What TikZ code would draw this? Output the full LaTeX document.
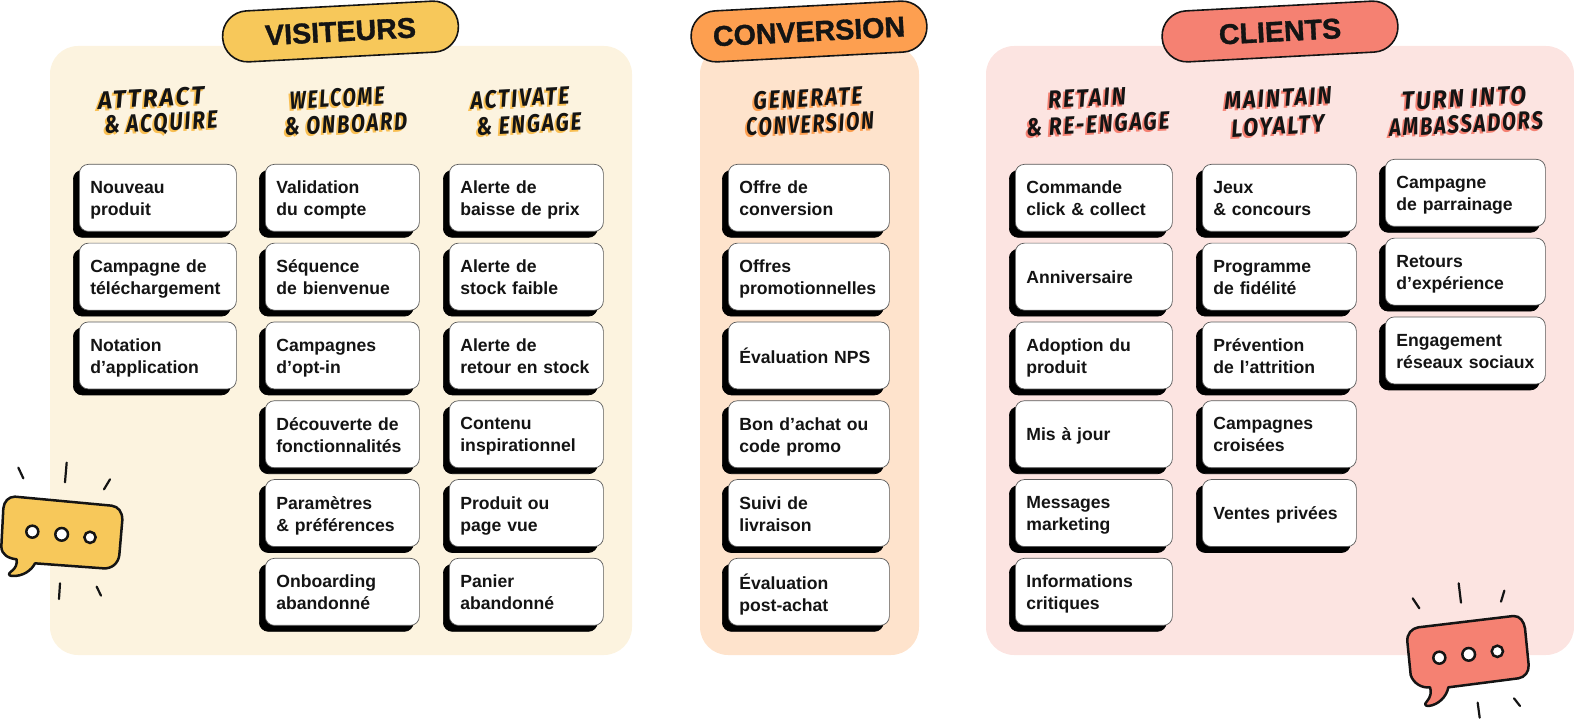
\documentclass[tikz,border=0pt]{standalone}
\usepackage{fontspec}
\setmainfont{Liberation Sans}
\newfontfamily\handfont[LetterSpace=9]{Fira Sans}
\newfontfamily\pillfont[BoldFeatures={FakeBold=1.2}]{Liberation Sans}
\usetikzlibrary{calc,shadows}
\definecolor{visPale}{HTML}{FCF3DF}
\definecolor{visMain}{HTML}{F7C85A}
\definecolor{visInk}{HTML}{F9BF52}
\definecolor{conPale}{HTML}{FEE3CC}
\definecolor{conMain}{HTML}{FD9F50}
\definecolor{cliPale}{HTML}{FCE4E1}
\definecolor{cliMain}{HTML}{F58172}
\definecolor{inkBlack}{HTML}{141414}
\tikzset{x=0.5pt,y=-0.5pt,
  panel/.style = {rounded corners=14pt},
  pill/.style = {draw=inkBlack,line width=0.8pt,rounded corners=12.5pt,rotate=3,
    minimum width=118pt,minimum height=25.5pt,inner sep=0pt,
    font=\fontsize{14.3}{14.3}\pillfont\bfseries,text=inkBlack},
  card/.style = {draw=black!65,line width=0.35pt,fill=white,rounded corners=4.5pt,
    anchor=north west,minimum height=33.5pt,inner xsep=5.5pt,inner ysep=0pt,
    text width=#1,text depth=10.4pt,align=left,text=inkBlack,
    font=\fontsize{8.8}{11}\selectfont\bfseries,
    copy shadow={shadow xshift=-3pt,shadow yshift=-3pt,fill=black,draw=black,opacity=1}},
  oneline/.style = {text depth=0pt},
  hand/.style = {rotate=3,inner sep=0pt,
    font=\fontsize{12.5}{12.5}\handfont\bfseries\itshape},
  bubble/.style = {draw=inkBlack,line width=1.25pt,line join=round},
  dot/.style = {draw=inkBlack,fill=white,line width=1.25pt},
  spark/.style = {draw=inkBlack,line width=1.1pt,line cap=round}
}
% one hand lettered line: offset colour copy under the black one
\newcommand{\handline}[5]{%
  \node[hand,text=#3] (#1-back) at ($(#2)+(-2,2)$) {\scalebox{#4}[1]{#5}};
  \node[hand,text=inkBlack] (#1) at (#2) {\scalebox{#4}[1]{#5}};
}
\begin{document}
\begin{tikzpicture}
  \useasboundingbox (0,0) rectangle (1574,726);

  \fill[panel,visPale] (50,46) rectangle (632,655);
  \fill[panel,conPale] (700,46) rectangle (919,655);
  \fill[panel,cliPale] (986,46) rectangle (1574,655);

  \node[pill,fill=visMain] (visiteurs) at (340.5,31.5) {VISITEURS};
  \node[pill,fill=conMain] (conversion) at (809,31.5) {CONVERSION};
  \node[pill,fill=cliMain] (clients) at (1280,31.5) {CLIENTS};

  \handline{attract}{151,98}{visInk}{0.97}{ATTRACT}
  \handline{acquire}{161,124}{visInk}{0.83}{\& ACQUIRE}
  \handline{welcome}{337,98}{visInk}{0.78}{WELCOME}
  \handline{onboard}{346,124}{visInk}{0.81}{\& ONBOARD}
  \handline{activate}{520,98}{visInk}{0.84}{ACTIVATE}
  \handline{engage}{529,124}{visInk}{0.83}{\& ENGAGE}
  \handline{generate}{808,98}{conMain}{0.85}{GENERATE}
  \handline{generconv}{810,124}{conMain}{0.78}{CONVERSION}
  \handline{retain}{1087,98}{cliMain}{0.87}{RETAIN}
  \handline{reengage}{1098,124}{cliMain}{0.84}{\& RE-ENGAGE}
  \handline{maintain}{1278,98}{cliMain}{0.87}{MAINTAIN}
  \handline{loyalty}{1278,126}{cliMain}{0.87}{LOYALTY}
  \handline{turninto}{1464,98}{cliMain}{0.92}{TURN INTO}
  \handline{ambass}{1466,124}{cliMain}{0.81}{AMBASSADORS}

  \foreach \n/\txt in {0/Nouveau\\produit,1/Campagne de\\téléchargement,2/Notation\\d’application}
    \node[card=67.5pt] (acquire-\n) at (79,164+78.8*\n) {\txt};
  \foreach \n/\txt in {0/Validation\\du compte,1/Séquence\\de bienvenue,2/Campagnes\\d’opt-in,
      3/Découverte de\\fonctionnalités,4/Paramètres\\\& préférences,5/Onboarding\\abandonné}
    \node[card=66pt] (onboard-\n) at (265,164+78.8*\n) {\txt};
  \foreach \n/\txt in {0/Alerte de\\baisse de prix,1/Alerte de\\stock faible,2/Alerte de\\retour en stock,
      3/Contenu\\inspirationnel,4/Produit ou\\page vue,5/Panier\\abandonné}
    \node[card=66pt] (engage-\n) at (449,164+78.8*\n) {\txt};
  \foreach \n/\txt in {0/Offre de\\conversion,1/Offres\\promotionnelles,
      3/Bon d’achat ou\\code promo,4/Suivi de\\livraison,5/Évaluation\\post-achat}
    \node[card=69.5pt] (convert-\n) at (728,164+78.8*\n) {\txt};
  \node[card=69.5pt,oneline] (convert-2) at (728,321.6) {Évaluation NPS};
  \foreach \n/\txt in {0/Commande\\click \& collect,2/Adoption du\\produit,
      4/Messages\\marketing,5/Informations\\critiques}
    \node[card=67.5pt] (retain-\n) at (1015,164+78.8*\n) {\txt};
  \node[card=67.5pt,oneline] (retain-1) at (1015,242.8) {Anniversaire};
  \node[card=67.5pt,oneline] (retain-3) at (1015,400.4) {Mis à jour};
  \foreach \n/\txt in {0/Jeux\\\& concours,1/Programme\\de fidélité,2/Prévention\\de l’attrition,
      3/Campagnes\\croisées}
    \node[card=66pt] (loyalty-\n) at (1202,164+78.8*\n) {\txt};
  \node[card=66pt,oneline] (loyalty-4) at (1202,479.2) {Ventes privées};
  \foreach \n/\txt in {0/Campagne\\de parrainage,1/Retours\\d’expérience,2/Engagement\\réseaux sociaux}
    \node[card=69pt] (ambass-\n) at (1385,159+78.8*\n) {\txt};

  % yellow bubble
  \begin{scope}[shift={(0,440)},scale=1/3]
    \draw[bubble,fill=visMain] (45,170) -- (335,197) .. controls (355,200) and (367,215) .. (367,240)
      -- (358,345) .. controls (355,370) and (335,387) .. (310,385) -- (105,370)
      .. controls (95,390) and (70,410) .. (35,408) .. controls (25,407) and (25,400) .. (33,395)
      .. controls (48,385) and (52,370) .. (50,358) .. controls (25,355) and (5,345) .. (4,320)
      -- (10,205) .. controls (12,185) and (25,170) .. (45,170) -- cycle;
    \draw[dot] (97,275) circle (18);
    \draw[dot] (185,283) circle (19);
    \draw[dot] (270,292) circle (17);
    \draw[spark] (55,83) -- (70,115);
    \draw[spark] (200,68) -- (195,127);
    \draw[spark] (330,118) -- (312,148);
    \draw[spark] (180,430) -- (177,477);
    \draw[spark] (290,440) -- (303,467);
  \end{scope}

  % red bubble
  \begin{scope}[shift={(1380,560)},scale=1/3]
    \draw[bubble,fill=cliMain] (400,168) .. controls (420,167) and (432,185) .. (435,205)
      -- (446,315) .. controls (447,335) and (435,352) .. (415,355) -- (205,382)
      .. controls (200,410) and (175,435) .. (145,438) .. controls (135,438) and (133,432) .. (140,425)
      .. controls (152,412) and (155,395) .. (150,382) .. controls (125,385) and (100,370) .. (92,345)
      -- (82,245) .. controls (80,222) and (95,205) .. (115,202) -- cycle;
    \draw[dot] (178,293) circle (18);
    \draw[dot] (266,283) circle (19);
    \draw[dot] (352,274) circle (17);
    \draw[spark] (98,115) -- (118,145);
    \draw[spark] (236,70) -- (243,128);
    \draw[spark] (373,92) -- (363,125);
    \draw[spark] (293,428) -- (299,473);
    \draw[spark] (402,415) -- (420,438);
  \end{scope}
\end{tikzpicture}
\end{document}
